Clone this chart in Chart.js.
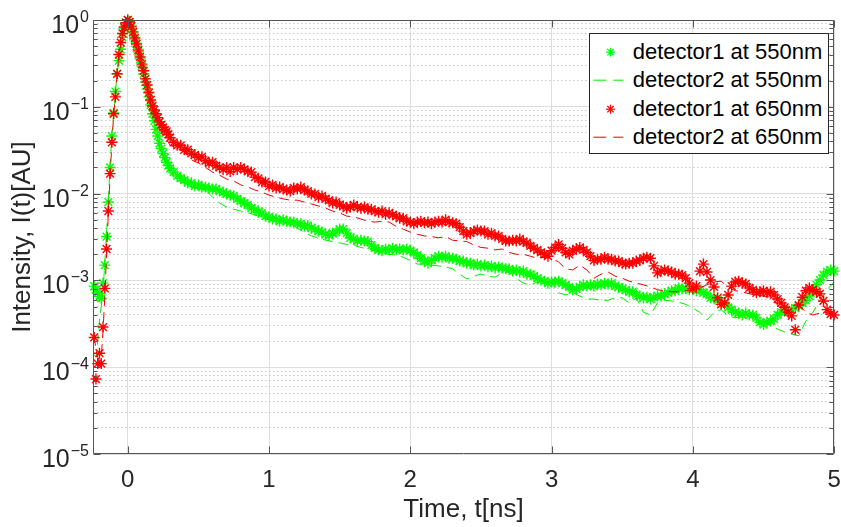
<!DOCTYPE html>
<html><head><meta charset="utf-8">
<script src="https://cdn.jsdelivr.net/npm/chart.js@4.4.1/dist/chart.umd.min.js"></script>
<style>
html,body{margin:0;padding:0;background:#fff;}
#wrap{position:relative;width:841px;height:527px;overflow:hidden;}
#legend{position:absolute;left:589px;top:33px;width:240px;height:121px;box-sizing:border-box;border:1px solid #262626;background:#fff;padding-top:4px;font-family:"Liberation Sans",Arial,sans-serif;font-size:22px;color:#000;}
.row{position:relative;height:28.33px;line-height:28.33px;white-space:nowrap;}
.row svg{position:absolute;left:0;top:0;}
.row span{position:absolute;left:42.7px;top:0;}
</style></head>
<body><div id="wrap"><canvas id="c" width="841" height="527"></canvas><div id="legend"></div></div>
<script>
// ---------- DATA ----------
const seriesNames = ['detector1 at 550nm','detector2 at 550nm','detector1 at 650nm','detector2 at 650nm'];
const xTickValues = [0,1,2,3,4,5];
const yDecades = [1e-5,1e-4,1e-3,1e-2,1e-1,1];
const yExponents = ['\u22125','\u22124','\u22123','\u22122','\u22121','0'];

const timeRise = [-0.2375,-0.225,-0.2125,-0.2,-0.1875,-0.175,-0.1625,-0.15,-0.1375,-0.125,
-0.1125,-0.1,-0.0875,-0.075,-0.0625,-0.05,-0.0375,-0.025,-0.0125,0,
0.0125,0.025,0.0375,0.05,0.0625,0.075,0.0875,0.1,0.1125,0.125,
0.1375,0.15,0.1625,0.175,0.1875,0.2,0.2125,0.225,0.2375,0.25,
0.2625,0.275,0.2875,0.3];

const timeTail1 = [0.325,0.35,0.375,0.4,0.425,0.45,0.475,0.5,0.525,0.55,
0.575,0.6,0.625,0.65,0.675,0.7,0.725,0.75,0.775,0.8,
0.825,0.85,0.875,0.9,0.925,0.95,0.975,1.0,1.025,1.05,
1.075,1.1,1.125,1.15,1.175,1.2,1.225,1.25,1.275,1.3,
1.325,1.35,1.375,1.4,1.425,1.45,1.475,1.5,1.525,1.55,
1.575,1.6,1.625,1.65,1.675,1.7,1.725,1.75,1.775,1.8,
1.825,1.85,1.875,1.9,1.925,1.95,1.975,2.0,2.025,2.05,
2.075,2.1,2.125,2.15,2.175,2.2,2.225,2.25,2.275,2.3,
2.325,2.35,2.375,2.4,2.425,2.45,2.475,2.5,2.525,2.55,
2.575,2.6,2.625,2.65,2.675,2.7,2.725,2.75,2.775,2.8,
2.825,2.85,2.875,2.9,2.925,2.95,2.975,3.0,3.025,3.05,
3.075,3.1,3.125,3.15,3.175,3.2,3.225,3.25,3.275,3.3,
3.325,3.35,3.375,3.4,3.425,3.45,3.475,3.5,3.525,3.55,
3.575,3.6,3.625,3.65,3.675,3.7,3.725,3.75,3.775,3.8,
3.825,3.85,3.875,3.9,3.925,3.95,3.975,4.0,4.025,4.05,
4.075,4.1,4.125,4.15,4.175,4.2,4.225,4.25,4.275,4.3,
4.325,4.35,4.375,4.4,4.425,4.45,4.475,4.5,4.525,4.55,
4.575,4.6,4.625,4.65,4.675,4.7,4.725,4.75,4.775,4.8,
4.825,4.85,4.875,4.9,4.925,4.95,4.975,5.0];

const timeTail2 = [0.35,0.4,0.45,0.5,0.55,0.6,0.65,0.7,0.75,0.8,
0.85,0.9,0.95,1.0,1.05,1.1,1.15,1.2,1.25,1.3,
1.35,1.4,1.45,1.5,1.55,1.6,1.65,1.7,1.75,1.8,
1.85,1.9,1.95,2.0,2.05,2.1,2.15,2.2,2.25,2.3,
2.35,2.4,2.45,2.5,2.55,2.6,2.65,2.7,2.75,2.8,
2.85,2.9,2.95,3.0,3.05,3.1,3.15,3.2,3.25,3.3,
3.35,3.4,3.45,3.5,3.55,3.6,3.65,3.7,3.75,3.8,
3.85,3.9,3.95,4.0,4.05,4.1,4.15,4.2,4.25,4.3,
4.35,4.4,4.45,4.5,4.55,4.6,4.65,4.7,4.75,4.8,
4.85,4.9,4.95,5.0];

// detector1 at 550nm (green stars)
const green1Rise = [8.6e-4,7.8e-4,7.2e-4,6.5e-4,6.2e-4,9.3e-4,1.5e-3,3.2e-3,8.0e-3,2.0e-2,
4.6e-2,8.5e-2,0.15,0.24,0.34,0.46,0.63,0.80,0.93,1.0,
0.95,0.83,0.71,0.59,0.50,0.43,0.355,0.295,0.24,0.193,
0.16,0.13,0.105,0.083,0.069,0.055,0.046,0.038,0.033,0.029,
0.026,0.023,0.021,0.0195];
const green1Tail = [1.77e-2,1.6e-2,1.5e-2,1.43e-2,1.33e-2,1.33e-2,1.22e-2,1.26e-2,1.19e-2,1.19e-2,
1.16e-2,1.13e-2,1.13e-2,1.07e-2,1.04e-2,9.9e-3,9.6e-3,9.4e-3,8.7e-3,8.2e-3,
7.8e-3,7.4e-3,6.8e-3,6.6e-3,6.1e-3,6.0e-3,5.5e-3,5.4e-3,5.1e-3,5.1e-3,
4.8e-3,5.0e-3,4.8e-3,4.7e-3,4.7e-3,4.5e-3,4.5e-3,4.2e-3,4.3e-3,4.0e-3,
3.9e-3,3.7e-3,3.6e-3,3.4e-3,3.3e-3,3.5e-3,3.6e-3,3.9e-3,3.9e-3,3.5e-3,
3.1e-3,3.0e-3,2.85e-3,2.9e-3,2.85e-3,2.8e-3,2.55e-3,2.35e-3,2.25e-3,2.2e-3,
2.3e-3,2.25e-3,2.35e-3,2.25e-3,2.3e-3,2.25e-3,2.3e-3,2.2e-3,2.1e-3,1.96e-3,
1.8e-3,1.67e-3,1.58e-3,1.7e-3,1.8e-3,1.9e-3,1.85e-3,1.9e-3,1.8e-3,1.8e-3,
1.75e-3,1.67e-3,1.67e-3,1.58e-3,1.58e-3,1.5e-3,1.54e-3,1.47e-3,1.5e-3,1.43e-3,
1.47e-3,1.39e-3,1.43e-3,1.39e-3,1.36e-3,1.36e-3,1.28e-3,1.32e-3,1.25e-3,1.28e-3,
1.18e-3,1.18e-3,1.12e-3,1.06e-3,1.01e-3,9.8e-4,9.3e-4,9.6e-4,9.6e-4,9.8e-4,
9.3e-4,8.9e-4,8.4e-4,7.8e-4,8.0e-4,8.4e-4,8.9e-4,8.6e-4,8.9e-4,8.6e-4,
9.1e-4,8.9e-4,9.3e-4,9.1e-4,9.3e-4,8.6e-4,8.4e-4,8.0e-4,7.8e-4,7.4e-4,
7.4e-4,6.8e-4,6.6e-4,6.3e-4,6.4e-4,6.1e-4,6.4e-4,6.6e-4,6.6e-4,7.0e-4,
7.2e-4,7.6e-4,7.6e-4,8.2e-4,8.0e-4,8.0e-4,7.8e-4,8.0e-4,7.6e-4,7.8e-4,
7.2e-4,7.0e-4,6.3e-4,6.3e-4,5.9e-4,5.8e-4,5.3e-4,4.9e-4,4.6e-4,4.3e-4,
4.2e-4,4.0e-4,4.2e-4,4.0e-4,4.0e-4,3.7e-4,3.3e-4,3.1e-4,3.3e-4,3.4e-4,
3.6e-4,4.0e-4,4.3e-4,4.6e-4,4.4e-4,4.6e-4,4.8e-4,5.1e-4,5.5e-4,5.9e-4,
6.6e-4,7.6e-4,8.9e-4,1.01e-3,1.15e-3,1.25e-3,1.32e-3,1.28e-3];

// detector2 at 550nm (green dashed)
const green2Rise = [1.4e-4,1.3e-4,2.0e-4,3.5e-4,5.0e-4,7.5e-4,1.6e-3,3.5e-3,8.5e-3,2.1e-2,
4.7e-2,8.5e-2,0.15,0.24,0.34,0.46,0.63,0.80,0.93,1.0,
0.95,0.83,0.71,0.59,0.50,0.42,0.35,0.29,0.235,0.19,
0.155,0.125,0.10,0.079,0.065,0.052,0.043,0.036,0.031,0.027,
0.024,0.0215,0.0195,0.018];
const green2Tail = [1.43e-2,1.33e-2,1.19e-2,1.16e-2,1.1e-2,9.1e-3,7.8e-3,7.0e-3,6.6e-3,6.3e-3,
6.0e-3,5.7e-3,5.2e-3,5.0e-3,4.8e-3,4.7e-3,4.5e-3,4.0e-3,3.6e-3,3.25e-3,
3.1e-3,2.9e-3,2.8e-3,2.7e-3,2.6e-3,2.55e-3,2.4e-3,2.3e-3,2.2e-3,2.05e-3,
2.0e-3,1.96e-3,1.85e-3,1.7e-3,1.54e-3,1.54e-3,1.5e-3,1.47e-3,1.43e-3,1.36e-3,
1.18e-3,1.04e-3,1.12e-3,1.18e-3,1.12e-3,1.09e-3,1.22e-3,1.25e-3,1.06e-3,9.3e-4,
8.9e-4,9.6e-4,1.01e-3,9.3e-4,7.2e-4,6.8e-4,7.2e-4,6.6e-4,6.1e-4,6.1e-4,
5.9e-4,5.9e-4,6.3e-4,6.3e-4,5.5e-4,6.3e-4,4.3e-4,4.0e-4,5.5e-4,5.9e-4,
5.8e-4,5.6e-4,5.3e-4,4.8e-4,4.3e-4,3.5e-4,4.3e-4,4.6e-4,3.9e-4,3.7e-4,
3.9e-4,4.0e-4,3.7e-4,3.4e-4,3.1e-4,2.75e-4,2.55e-4,2.4e-4,2.3e-4,3.4e-4,
4.3e-4,5.9e-4,7.8e-4,9.6e-4];

// detector1 at 650nm (red stars)
const red1Rise = [2.2e-4,7.3e-5,1.1e-4,1.45e-4,1.1e-4,2.9e-4,8.1e-4,2.3e-3,6.3e-3,1.7e-2,
3.9e-2,8.3e-2,0.13,0.24,0.40,0.55,0.70,0.83,0.93,1.0,
0.95,0.85,0.73,0.62,0.53,0.45,0.375,0.31,0.26,0.21,
0.178,0.146,0.12,0.102,0.092,0.083,0.075,0.067,0.062,0.058,
0.054,0.052,0.048,0.044];
const red1Tail = [3.9e-2,3.6e-2,3.6e-2,3.2e-2,3.2e-2,2.9e-2,2.8e-2,2.6e-2,2.65e-2,2.4e-2,
2.25e-2,2.3e-2,2.1e-2,2.0e-2,1.9e-2,2.0e-2,1.8e-2,2.0e-2,1.9e-2,2.0e-2,
1.9e-2,1.8e-2,1.77e-2,1.55e-2,1.5e-2,1.36e-2,1.36e-2,1.22e-2,1.26e-2,1.16e-2,
1.19e-2,1.13e-2,1.1e-2,1.07e-2,1.16e-2,1.13e-2,1.19e-2,1.1e-2,1.07e-2,9.9e-3,
9.9e-3,9.1e-3,9.4e-3,8.7e-3,8.4e-3,7.8e-3,8.0e-3,7.4e-3,7.2e-3,6.8e-3,
7.0e-3,7.4e-3,7.0e-3,6.8e-3,7.0e-3,6.6e-3,6.6e-3,6.3e-3,6.1e-3,6.3e-3,
5.8e-3,6.0e-3,5.7e-3,5.5e-3,5.2e-3,5.2e-3,4.8e-3,4.7e-3,4.5e-3,4.7e-3,
4.8e-3,4.6e-3,4.7e-3,4.5e-3,4.7e-3,4.8e-3,4.7e-3,5.0e-3,4.7e-3,4.6e-3,
4.5e-3,4.1e-3,3.7e-3,3.4e-3,3.5e-3,3.7e-3,3.8e-3,3.7e-3,3.7e-3,3.4e-3,
3.5e-3,3.25e-3,3.25e-3,3.0e-3,2.85e-3,2.85e-3,2.9e-3,2.85e-3,3.0e-3,2.8e-3,
2.7e-3,2.5e-3,2.35e-3,2.25e-3,2.1e-3,2.0e-3,1.9e-3,2.2e-3,2.4e-3,2.6e-3,
2.35e-3,2.1e-3,2.0e-3,2.2e-3,2.3e-3,2.4e-3,2.25e-3,2.1e-3,1.9e-3,1.7e-3,
1.75e-3,1.75e-3,1.85e-3,1.75e-3,1.75e-3,1.67e-3,1.67e-3,1.58e-3,1.54e-3,1.58e-3,
1.58e-3,1.67e-3,1.7e-3,1.8e-3,1.85e-3,1.8e-3,1.47e-3,1.22e-3,1.28e-3,1.32e-3,
1.28e-3,1.25e-3,1.18e-3,1.18e-3,1.15e-3,1.06e-3,9.3e-4,8.0e-4,8.6e-4,1.28e-3,
1.54e-3,1.25e-3,1.01e-3,8.4e-4,6.3e-4,5.3e-4,5.5e-4,6.8e-4,8.6e-4,9.6e-4,
9.8e-4,9.3e-4,9.1e-4,8.2e-4,7.8e-4,7.2e-4,7.4e-4,7.6e-4,7.2e-4,7.4e-4,
6.8e-4,6.1e-4,5.5e-4,4.9e-4,4.3e-4,3.9e-4,2.7e-4,5.2e-4,6.4e-4,7.6e-4,
8.2e-4,7.8e-4,7.4e-4,7.0e-4,5.8e-4,4.6e-4,4.1e-4,4.0e-4];

// detector2 at 650nm (red dashed)
const red2Rise = [2.3e-4,1.6e-4,1.3e-4,1.2e-4,1.3e-4,2.6e-4,6.5e-4,2.0e-3,6.0e-3,1.6e-2,
3.8e-2,8.0e-2,0.13,0.24,0.39,0.54,0.70,0.83,0.93,1.0,
0.95,0.85,0.73,0.62,0.53,0.45,0.37,0.30,0.25,0.20,
0.165,0.135,0.11,0.092,0.080,0.071,0.063,0.056,0.051,0.047,
0.044,0.041,0.039,0.036];
const red2Tail = [3.35e-2,3.0e-2,2.45e-2,2.25e-2,2.0e-2,1.77e-2,1.63e-2,1.47e-2,1.4e-2,1.26e-2,
1.19e-2,1.1e-2,1.04e-2,9.6e-3,9.1e-3,8.7e-3,8.4e-3,8.4e-3,8.0e-3,7.6e-3,
7.2e-3,6.8e-3,6.3e-3,6.0e-3,5.5e-3,5.4e-3,5.1e-3,4.8e-3,4.7e-3,4.8e-3,
4.7e-3,4.2e-3,3.9e-3,3.6e-3,3.4e-3,3.25e-3,3.2e-3,3.1e-3,3.2e-3,2.9e-3,
2.85e-3,2.8e-3,2.55e-3,2.4e-3,2.35e-3,2.25e-3,2.3e-3,2.1e-3,2.0e-3,2.0e-3,
1.9e-3,1.8e-3,1.85e-3,1.8e-3,1.63e-3,1.36e-3,1.32e-3,1.5e-3,1.32e-3,1.06e-3,
1.18e-3,1.25e-3,1.12e-3,1.06e-3,9.8e-4,9.3e-4,8.9e-4,8.4e-4,7.8e-4,7.6e-4,
7.4e-4,7.4e-4,7.6e-4,7.8e-4,8.2e-4,8.9e-4,9.6e-4,9.8e-4,8.4e-4,7.6e-4,
7.4e-4,7.0e-4,6.8e-4,6.6e-4,6.4e-4,5.2e-4,4.1e-4,4.8e-4,5.2e-4,4.3e-4,
4.0e-4,4.2e-4,4.3e-4,4.4e-4];

// ---------- BUILD ----------
const time1 = timeRise.concat(timeTail1);
const time2 = timeRise.concat(timeTail2);
const pts = (ts, vs) => vs.map((v, i) => ({x: ts[i], y: v}));
const green1 = pts(time1, green1Rise.concat(green1Tail));
const green2 = pts(time2, green2Rise.concat(green2Tail));
const red1 = pts(time1, red1Rise.concat(red1Tail));
const red2 = pts(time2, red2Rise.concat(red2Tail));

const FONT = '"Liberation Sans", Arial, Helvetica, sans-serif';
const TXT = '#262626';
const isMajor = v => Math.abs(Math.log10(v) - Math.round(Math.log10(v))) < 1e-6;
const yTickAll = [];
yDecades.forEach(d => { for (let m = 1; m <= 9; m++) { const v = d * m; if (v <= 1.0000001) yTickAll.push(v); } });

const frame = {
  id: 'frame',
  afterDraw(chart) {
    const {ctx, chartArea: a, scales: {x, y}} = chart;
    ctx.save();
    ctx.strokeStyle = '#555555';
    ctx.lineWidth = 1;
    const L = Math.round(a.left) + 0.5, R = Math.round(a.right) - 0.5, T = Math.round(a.top) + 0.5, B = Math.round(a.bottom) - 0.5;
    ctx.beginPath();
    ctx.rect(L, T, R - L, B - T);
    y.ticks.forEach(t => {
      const p = Math.round(y.getPixelForValue(t.value)) + 0.5;
      const len = isMajor(t.value) ? 7 : 4;
      ctx.moveTo(L, p); ctx.lineTo(L + len, p);
      ctx.moveTo(R, p); ctx.lineTo(R - len, p);
    });
    x.ticks.forEach(t => {
      const p = Math.round(x.getPixelForValue(t.value)) + 0.5;
      ctx.moveTo(p, B); ctx.lineTo(p, B - 7);
      ctx.moveTo(p, T); ctx.lineTo(p, T + 7);
    });
    ctx.stroke();
    // y tick labels with superscript exponents
    ctx.fillStyle = TXT;
    ctx.textAlign = 'right';
    ctx.textBaseline = 'alphabetic';
    yDecades.forEach((v, i) => {
      const p = y.getPixelForValue(v);
      ctx.font = '16px ' + FONT;
      const e = yExponents[i];
      ctx.fillText(e, 89, p + 2);
      const w = ctx.measureText(e).width;
      ctx.font = '25px ' + FONT;
      ctx.fillText('10', 89 - w - 1, p + 13);
    });
    ctx.restore();
  }
};

const chart = new Chart(document.getElementById('c'), {
  type: 'line',
  data: {
    datasets: [
      {label: seriesNames[0], data: green1, showLine: false, pointStyle: 'star', pointRadius: 5.5, pointBorderWidth: 1.4,
       pointBorderColor: '#00ff00', borderColor: '#00ff00', backgroundColor: '#00ff00', clip: false, order: 4},
      {label: seriesNames[1], data: green2, borderColor: '#00ee00', borderWidth: 1, borderDash: [10, 6], pointRadius: 0, fill: false, order: 3},
      {label: seriesNames[2], data: red1, showLine: false, pointStyle: 'star', pointRadius: 5.5, pointBorderWidth: 1.4,
       pointBorderColor: '#ff0000', borderColor: '#ff0000', backgroundColor: '#ff0000', clip: false, order: 2},
      {label: seriesNames[3], data: red2, borderColor: '#ee0000', borderWidth: 1, borderDash: [10, 6], pointRadius: 0, fill: false, order: 1}
    ]
  },
  options: {
    responsive: false,
    animation: false,
    devicePixelRatio: 1,
    layout: {padding: {left: 0, top: 20, right: 3, bottom: 0}},
    plugins: {legend: {display: false}, tooltip: {enabled: false}},
    elements: {line: {tension: 0}},
    scales: {
      x: {
        type: 'linear', min: -0.246, max: 5,
        afterBuildTicks: s => { s.ticks = xTickValues.map(v => ({value: v})); },
        afterFit: s => { s.height = 73; s.paddingLeft = 0; s.paddingRight = 0; },
        ticks: {autoSkip: false, maxRotation: 0, padding: 12, color: TXT, font: {family: FONT, size: 24}, callback: v => String(v)},
        grid: {color: '#dedede', lineWidth: 1, drawTicks: false},
        border: {display: false},
        title: {display: true, text: 'Time, t[ns]', color: TXT, font: {family: FONT, size: 26}, padding: {top: 0, bottom: 2}}
      },
      y: {
        type: 'logarithmic', min: 1e-5, max: 1,
        afterBuildTicks: s => { s.ticks = yTickAll.map(v => ({value: v})); },
        afterFit: s => { s.width = 93; s.paddingTop = 0; s.paddingBottom = 0; },
        ticks: {display: false, autoSkip: false},
        grid: {
          lineWidth: 1, drawTicks: false,
          color: c => (c.tick && !isMajor(c.tick.value)) ? '#c8c8c8' : '#dedede'
        },
        border: {display: false, dash: c => (c.tick && !isMajor(c.tick.value)) ? [1.5, 2.5] : []},
        title: {display: true, text: 'Intensity, I(t)[AU]', color: TXT, font: {family: FONT, size: 26}, padding: {top: 7, bottom: 0}}
      }
    }
  },
  plugins: [frame]
});

// ---------- LEGEND (HTML, real text) ----------
const legendStyles = [
  {color: '#00ff00', star: true}, {color: '#00ee00', star: false},
  {color: '#ff0000', star: true}, {color: '#ee0000', star: false}
];
const legendEl = document.getElementById('legend');
seriesNames.forEach((name, i) => {
  const st = legendStyles[i];
  const row = document.createElement('div');
  row.className = 'row';
  let sym;
  if (st.star) {
    const cx = 20.5, cy = 14.2, r = 4.5, d = r * Math.SQRT1_2;
    sym = `<svg width="42" height="29"><g stroke="${st.color}" stroke-width="1.2">` +
      `<line x1="${cx - r}" y1="${cy}" x2="${cx + r}" y2="${cy}"/>` +
      `<line x1="${cx}" y1="${cy - r}" x2="${cx}" y2="${cy + r}"/>` +
      `<line x1="${cx - d}" y1="${cy - d}" x2="${cx + d}" y2="${cy + d}"/>` +
      `<line x1="${cx - d}" y1="${cy + d}" x2="${cx + d}" y2="${cy - d}"/></g></svg>`;
  } else {
    sym = `<svg width="42" height="29"><line x1="3.3" y1="14.2" x2="33.3" y2="14.2" stroke="${st.color}" stroke-width="1" stroke-dasharray="13 7"/></svg>`;
  }
  row.innerHTML = sym + '<span>' + name + '</span>';
  legendEl.appendChild(row);
});
</script></body></html>
